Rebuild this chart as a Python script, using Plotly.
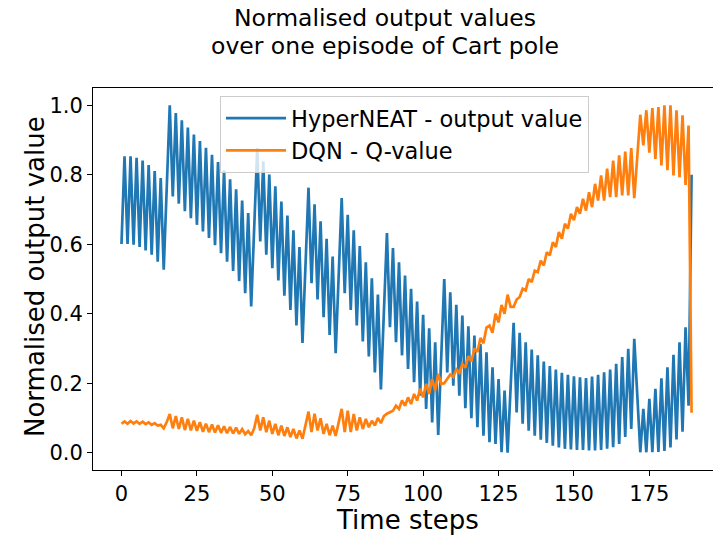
import plotly.graph_objects as go

time_steps = list(range(190))

hyperneat_output = [
    0.601, 0.853, 0.601, 0.853, 0.599, 0.849, 0.592, 0.841, 0.582, 0.828,
    0.570, 0.811, 0.550, 0.791, 0.527, 0.760, 1.000, 0.738, 0.978, 0.717,
    0.957, 0.695, 0.936, 0.675, 0.916, 0.656, 0.897, 0.637, 0.878, 0.618,
    0.858, 0.597, 0.837, 0.574, 0.813, 0.550, 0.787, 0.523, 0.758, 0.494,
    0.726, 0.459, 0.690, 0.421, 0.650, 0.877, 0.608, 0.839, 0.570, 0.801,
    0.531, 0.767, 0.496, 0.723, 0.452, 0.683, 0.411, 0.640, 0.366, 0.592,
    0.316, 0.540, 0.763, 0.488, 0.715, 0.441, 0.666, 0.390, 0.616, 0.339,
    0.565, 0.286, 0.510, 0.733, 0.459, 0.685, 0.411, 0.640, 0.366, 0.595,
    0.320, 0.548, 0.277, 0.502, 0.231, 0.455, 0.182, 0.410, 0.632, 0.361,
    0.589, 0.318, 0.548, 0.280, 0.510, 0.241, 0.472, 0.203, 0.435, 0.164,
    0.397, 0.126, 0.358, 0.087, 0.318, 0.051, 0.280, 0.500, 0.231, 0.462,
    0.193, 0.426, 0.164, 0.395, 0.128, 0.364, 0.099, 0.337, 0.073, 0.313,
    0.049, 0.289, 0.030, 0.246, 0.025, 0.212, 0.001, 0.179, 0.000, 0.190,
    0.374, 0.116, 0.345, 0.083, 0.318, 0.063, 0.297, 0.049, 0.280, 0.037,
    0.262, 0.028, 0.249, 0.020, 0.239, 0.015, 0.230, 0.011, 0.224, 0.009,
    0.220, 0.008, 0.217, 0.008, 0.215, 0.006, 0.219, 0.006, 0.224, 0.008,
    0.231, 0.011, 0.239, 0.016, 0.256, 0.025, 0.275, 0.045, 0.299, 0.068,
    0.328, 0.165, 0.001, 0.126, 0.001, 0.155, 0.001, 0.184, 0.002, 0.214,
    0.005, 0.246, 0.015, 0.282, 0.038, 0.318, 0.060, 0.361, 0.135, 0.800,
]

dqn_q_value = [
    0.083, 0.090, 0.083, 0.091, 0.084, 0.090, 0.083, 0.089, 0.082, 0.087,
    0.080, 0.085, 0.078, 0.080, 0.070, 0.088, 0.111, 0.070, 0.105, 0.068,
    0.102, 0.065, 0.097, 0.064, 0.092, 0.063, 0.088, 0.060, 0.083, 0.059,
    0.081, 0.058, 0.079, 0.057, 0.076, 0.056, 0.074, 0.055, 0.072, 0.054,
    0.068, 0.053, 0.062, 0.050, 0.070, 0.109, 0.064, 0.102, 0.059, 0.092,
    0.054, 0.083, 0.050, 0.078, 0.048, 0.073, 0.045, 0.068, 0.041, 0.064,
    0.040, 0.080, 0.118, 0.059, 0.112, 0.064, 0.099, 0.054, 0.083, 0.050,
    0.078, 0.048, 0.085, 0.126, 0.059, 0.121, 0.059, 0.111, 0.064, 0.102,
    0.068, 0.097, 0.073, 0.092, 0.078, 0.100, 0.085, 0.105, 0.112, 0.117,
    0.121, 0.135, 0.126, 0.150, 0.135, 0.159, 0.140, 0.169, 0.150, 0.184,
    0.159, 0.198, 0.169, 0.212, 0.179, 0.227, 0.198, 0.200, 0.212, 0.225,
    0.218, 0.240, 0.230, 0.255, 0.245, 0.278, 0.262, 0.300, 0.290, 0.330,
    0.315, 0.360, 0.366, 0.345, 0.400, 0.375, 0.425, 0.400, 0.455, 0.420,
    0.420, 0.441, 0.448, 0.472, 0.467, 0.500, 0.491, 0.524, 0.520, 0.553,
    0.539, 0.577, 0.568, 0.606, 0.592, 0.635, 0.616, 0.659, 0.645, 0.688,
    0.669, 0.707, 0.688, 0.731, 0.697, 0.750, 0.707, 0.774, 0.726, 0.798,
    0.726, 0.818, 0.736, 0.841, 0.736, 0.856, 0.741, 0.867, 0.741, 0.877,
    0.733, 0.850, 0.973, 0.885, 0.986, 0.864, 0.992, 0.846, 0.995, 0.827,
    1.000, 0.813, 1.000, 0.798, 0.986, 0.793, 0.971, 0.771, 0.942, 0.115,
]

x_ticks = [0, 25, 50, 75, 100, 125, 150, 175]
y_ticks = [0.0, 0.2, 0.4, 0.6, 0.8, 1.0]
y_tick_labels = ["0.0", "0.2", "0.4", "0.6", "0.8", "1.0"]
title_lines = ["Normalised output values", "over one episode of Cart pole"]

FONT = "DejaVu Sans"
PLOT_L, PLOT_R, PLOT_T, PLOT_B = 93, 713, 88, 470
PW, PH = PLOT_R - PLOT_L, PLOT_B - PLOT_T


def px_x(x):
    return (x - PLOT_L) / PW


def px_y(y):
    return (PLOT_B - y) / PH


fig = go.Figure()
fig.add_trace(go.Scatter(x=time_steps, y=hyperneat_output, mode="lines",
                         name="HyperNEAT - output value",
                         line=dict(color="#1f77b4", width=2.7)))
fig.add_trace(go.Scatter(x=time_steps, y=dqn_q_value, mode="lines",
                         name="DQN - Q-value",
                         line=dict(color="#ff7f0e", width=2.7)))

fig.update_layout(
    width=713, height=536,
    margin=dict(l=PLOT_L, r=713 - PLOT_R, t=PLOT_T, b=536 - PLOT_B),
    paper_bgcolor="white", plot_bgcolor="white",
    font=dict(family=FONT, color="black"),
    legend=dict(x=px_x(220), y=px_y(96), xanchor="left", yanchor="top",
                bgcolor="rgba(255,255,255,0.8)", bordercolor="#cccccc", borderwidth=1,
                itemwidth=60, tracegroupgap=0,
                font=dict(size=22.5, family=FONT, color="black")),
    showlegend=True,
)

fig.update_xaxes(range=[-9.45, 196.1], tickvals=x_ticks, ticktext=[str(v) for v in x_ticks],
                 showgrid=False, zeroline=False, showline=True, mirror=True,
                 linecolor="black", linewidth=1, ticks="outside", ticklen=5,
                 tickcolor="black", tickfont=dict(size=21, family=FONT, color="black"))
fig.update_yaxes(range=[-0.05, 1.05], tickvals=y_ticks, ticktext=y_tick_labels,
                 showgrid=False, zeroline=False, showline=True, mirror=False,
                 linecolor="black", linewidth=1, ticks="outside", ticklen=5,
                 tickcolor="black", tickfont=dict(size=21, family=FONT, color="black"))

for line_text, ypix in zip(title_lines, [18, 46]):
    fig.add_annotation(text=line_text, xref="paper", yref="paper",
                       x=px_x(385), y=px_y(ypix), xanchor="center", yanchor="middle",
                       showarrow=False, font=dict(size=23.5, family=FONT, color="black"))

fig.add_annotation(text="Time steps", xref="paper", yref="paper",
                   x=px_x(407), y=px_y(520), xanchor="center", yanchor="middle",
                   showarrow=False, font=dict(size=26, family=FONT, color="black"))
fig.add_annotation(text="Normalised output value", xref="paper", yref="paper",
                   x=px_x(35), y=px_y(277), xanchor="center", yanchor="middle",
                   textangle=-90, showarrow=False,
                   font=dict(size=26, family=FONT, color="black"))

fig.write_html("out.html")
